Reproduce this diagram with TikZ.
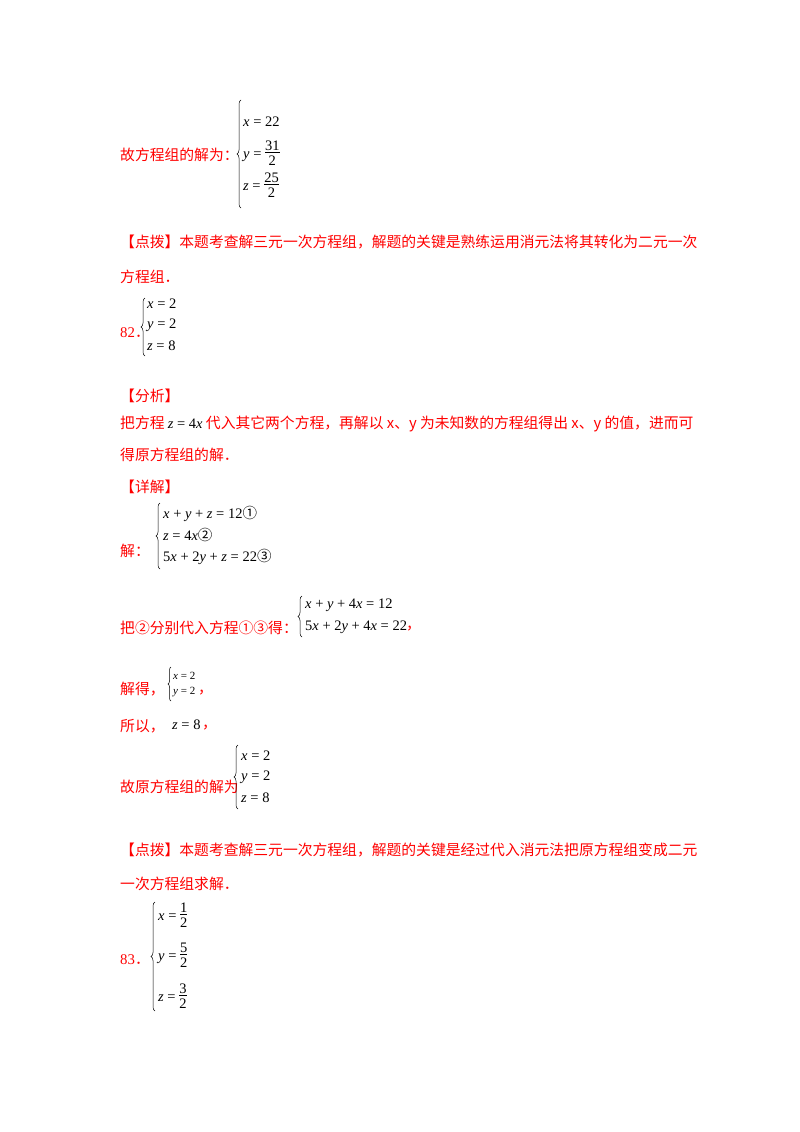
\documentclass[tikz,border=0pt]{standalone}
\usepackage{fontspec}
\setmainfont{Liberation Serif}
\newfontfamily\cjk{Noto Sans CJK SC}
\usetikzlibrary{decorations.pathreplacing}
\newcommand\mv[1]{\textit{#1}}
\newcommand\fr[2]{\begin{tabular}{@{}c@{}}#1\\[-2pt]\hline\rule{0pt}{13pt}#2\end{tabular}}
\tikzset{
 cn/.style={anchor=west,inner sep=0,text=red,font=\cjk\fontsize{14.8}{15}\selectfont},
 mt/.style={anchor=west,inner sep=0,font=\fontsize{14.5}{14.5}\selectfont},
 sm/.style={anchor=west,inner sep=0,font=\fontsize{11}{11}\selectfont},
 br/.style={decorate,decoration={brace,amplitude=4pt,mirror},line width=0.5pt}
}
\begin{document}
\begin{tikzpicture}[x=1pt,y=-1pt]
\useasboundingbox[fill=white] (0,0) rectangle (800,1132);
% block 1
\node[cn] (t1) at (120,155) {故方程组的解为：};
\draw[br] (241,100) coordinate (b1a) -- (241,208) coordinate (b1b);
\node[mt] (e1) at (243,122) {\mv{x} = 22};
\node[mt] (e2) at (243,155) {\mv{y} = \fr{31}{2}};
\node[mt] (e3) at (243,187) {\mv{z} = \fr{25}{2}};
\node[cn] (p1) at (120,242) {【点拨】本题考查解三元一次方程组，解题的关键是熟练运用消元法将其转化为二元一次};
\node[cn] (p2) at (120,277) {方程组．};
% 82
\node[cn] (n82) at (120,333) {{\fontspec{Liberation Serif}82}．};
\draw[br] (145,298) -- (145,356);
\node[mt] (f1) at (147,304) {\mv{x} = 2};
\node[mt] (f2) at (147,325) {\mv{y} = 2};
\node[mt] (f3) at (147,346) {\mv{z} = 8};
\node[cn] (a1) at (120,396) {【分析】};
\node[cn] (a2) at (120,424) {把方程 \textcolor{black}{\fontspec{Liberation Serif}\fontsize{14.5}{14.5}\selectfont\itshape z\upshape\ = 4\itshape x} 代入其它两个方程，再解以 x、y 为未知数的方程组得出 x、y 的值，进而可};
\node[cn] (a3) at (120,455) {得原方程组的解．};
\node[cn] (d1) at (120,487) {【详解】};
\node[cn] (d2) at (120,551) {解：};
\draw[br] (160,503) -- (160,569);
\node[mt] (g1) at (163,514) {\mv{x} + \mv{y} + \mv{z} = 12{\cjk ①}};
\node[mt] (g2) at (163,535) {\mv{z} = 4\mv{x}{\cjk ②}};
\node[mt] (g3) at (163,557) {5\mv{x} + 2\mv{y} + \mv{z} = 22{\cjk ③}};
\node[cn] (d3) at (120,628) {把②分别代入方程①③得：};
\draw[br] (302,596) -- (302,637);
\node[mt] (h1) at (305,605) {\mv{x} + \mv{y} + 4\mv{x} = 12};
\node[mt] (h2) at (305,627) {5\mv{x} + 2\mv{y} + 4\mv{x} = 22};
\node[cn] (hc) at (406,629) {，};
\node[cn] (d4) at (120,689) {解得，};
\draw[br,decoration={amplitude=3pt}] (171,667) -- (171,701);
\node[sm] (k1) at (173,676) {\mv{x} = 2};
\node[sm] (k2) at (173,692) {\mv{y} = 2};
\node[cn] (kc) at (198,693) {，};
\node[cn] (d5) at (120,726) {所以，};
\node[mt] (z8) at (172,725) {\mv{z} = 8};
\node[cn] (zc) at (202,728) {，};
\node[cn] (d6) at (120,787) {故原方程组的解为};
\draw[br] (238,745) -- (238,809);
\node[mt] (m1) at (241,756) {\mv{x} = 2};
\node[mt] (m2) at (241,777) {\mv{y} = 2};
\node[mt] (m3) at (241,798) {\mv{z} = 8};
\node[cn] (q1) at (120,850) {【点拨】本题考查解三元一次方程组，解题的关键是经过代入消元法把原方程组变成二元};
\node[cn] (q2) at (120,884) {一次方程组求解．};
% 83
\node[cn] (n83) at (120,960) {{\fontspec{Liberation Serif}83}．};
\draw[br] (155,902) -- (155,1011);
\node[mt] (r1) at (158,917) {\mv{x} = \fr{1}{2}};
\node[mt] (r2) at (158,957) {\mv{y} = \fr{5}{2}};
\node[mt] (r3) at (158,998) {\mv{z} = \fr{3}{2}};
\end{tikzpicture}
\end{document}
